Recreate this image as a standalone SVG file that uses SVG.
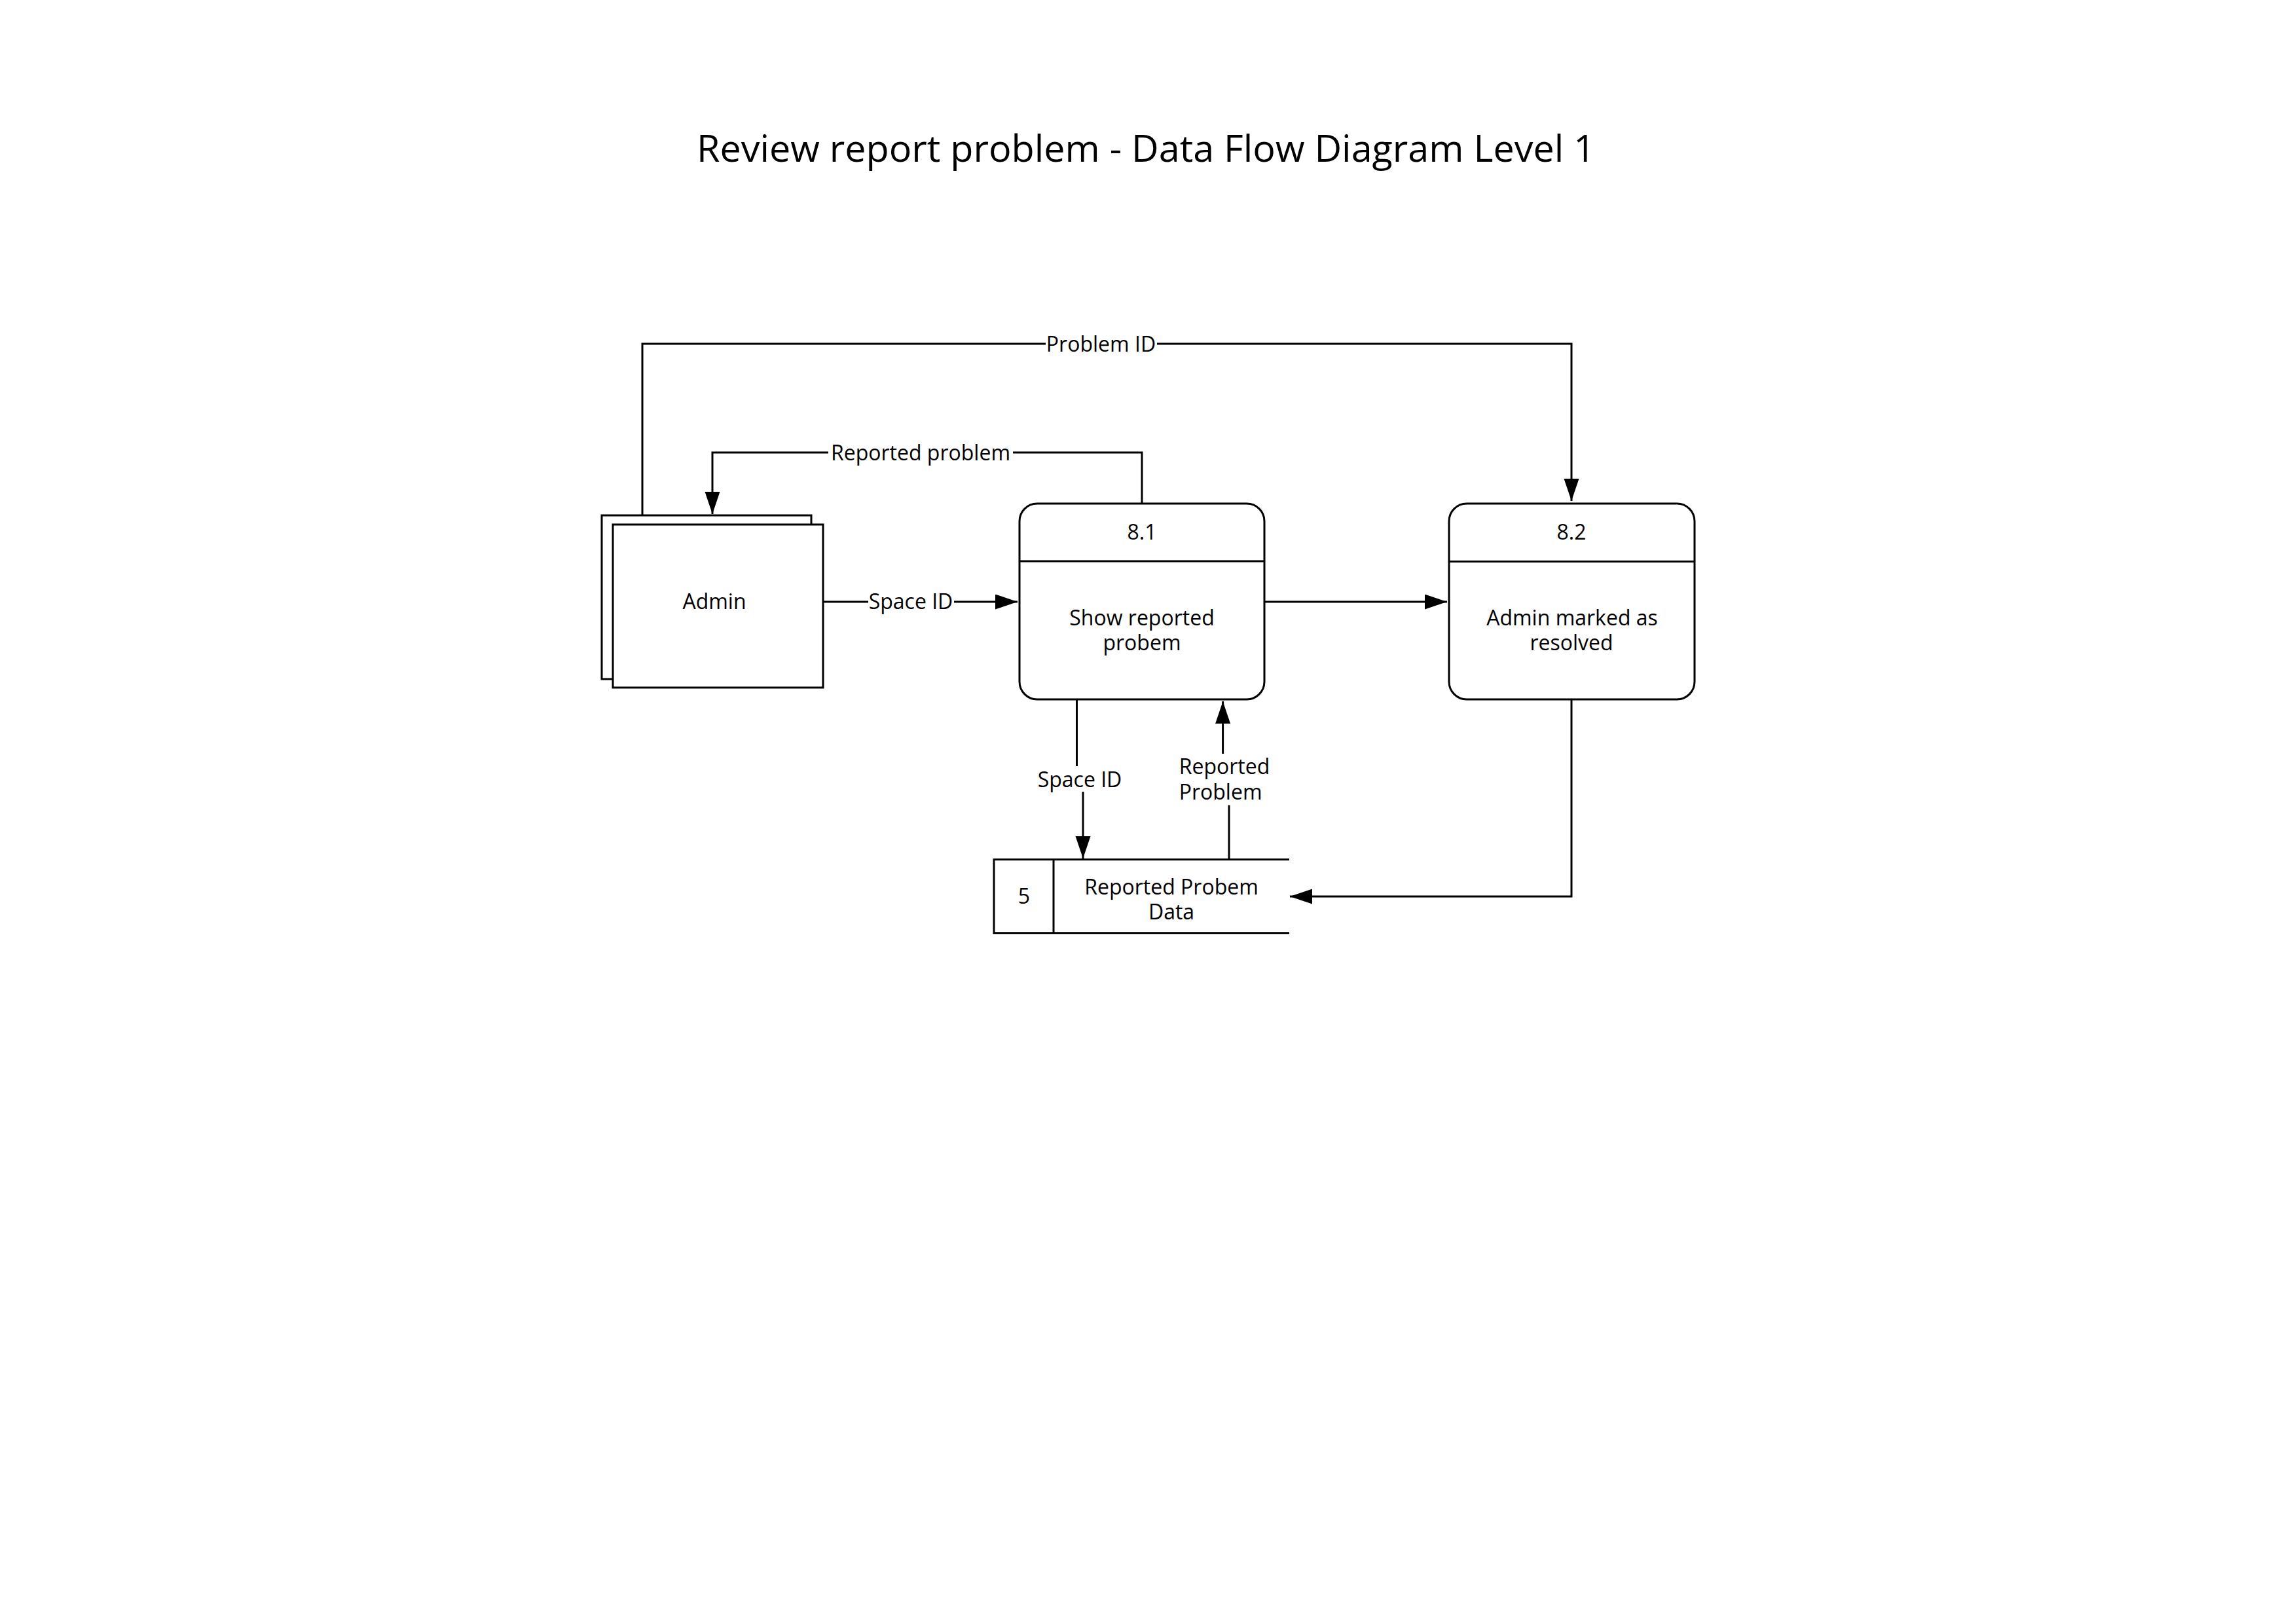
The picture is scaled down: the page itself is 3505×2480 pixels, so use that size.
<svg xmlns="http://www.w3.org/2000/svg" width="3505" height="2480" viewBox="0 0 3505 2480">
<defs>
<style>
.s{fill:#fff;stroke:#000;stroke-width:3}
.ln{fill:none;stroke:#000;stroke-width:3}
.t{font-family:"Open Sans","Liberation Sans",sans-serif;font-size:32px;fill:#000;text-anchor:middle}
.bg{fill:#fff;stroke:none}
</style>
<marker id="arr" markerUnits="userSpaceOnUse" markerWidth="36" markerHeight="24" refX="34" refY="11.5" orient="auto">
<path d="M0,0 L34,11.5 L0,23 Z" fill="#000"/>
</marker>
</defs>
<rect width="3505" height="2480" fill="#fff"/>
<text x="1750" y="247" style="font-family:'Open Sans','Liberation Sans',sans-serif;font-size:57.5px;fill:#000;text-anchor:middle">Review report problem - Data Flow Diagram Level 1</text>

<g id="connectors">
<path class="ln" d="M981,787 V525 H2400 V765" marker-end="url(#arr)"/>
<rect class="bg" x="1597" y="512" width="170" height="26"/>
<text class="t" x="1681.5" y="537">Problem ID</text>

<path class="ln" d="M1744,769 V691 H1088 V785" marker-end="url(#arr)"/>
<rect class="bg" x="1265" y="678" width="282" height="26"/>
<text class="t" x="1406" y="703">Reported problem</text>

<path class="ln" d="M1257,919 H1554" marker-end="url(#arr)"/>
<rect class="bg" x="1326" y="906" width="131" height="26"/>
<text class="t" x="1391" y="930">Space ID</text>

<path class="ln" d="M1931,919 H2210" marker-end="url(#arr)"/>

<path class="ln" d="M1644.5,1068 V1190 H1654 V1311" marker-end="url(#arr)"/>
<rect class="bg" x="1584" y="1170" width="130" height="39"/>
<text class="t" x="1649" y="1201.6">Space ID</text>

<path class="ln" d="M1877,1312.6 V1190 H1867.6 V1071" marker-end="url(#arr)"/>
<rect class="bg" x="1800" y="1151" width="144" height="78.5"/>
<text class="t" x="1800.7" y="1181.7" style="text-anchor:start">Reported</text>
<text class="t" x="1800.7" y="1220.7" style="text-anchor:start">Problem</text>

<path class="ln" d="M2400,1068 V1369 H1970" marker-end="url(#arr)"/>
</g>

<g id="admin">
<rect class="s" x="919" y="787" width="320" height="250"/>
<rect class="s" x="936" y="801" width="321" height="249"/>
<text class="t" x="1091" y="930">Admin</text>
</g>

<g id="p81">
<rect class="s" x="1557" y="769" width="374" height="299" rx="27" ry="27"/>
<line class="ln" x1="1557" y1="857" x2="1931" y2="857"/>
<text class="t" x="1744" y="824">8.1</text>
<text class="t" x="1744" y="954.5">Show reported</text>
<text class="t" x="1744" y="993">probem</text>
</g>

<g id="p82">
<rect class="s" x="2213" y="769" width="375" height="299" rx="27" ry="27"/>
<line class="ln" x1="2213" y1="857.5" x2="2588" y2="857.5"/>
<text class="t" x="2400" y="824">8.2</text>
<text class="t" x="2401" y="954.5">Admin marked as</text>
<text class="t" x="2400" y="993">resolved</text>
</g>

<g id="store5">
<rect class="bg" x="1518" y="1312.6" width="451" height="112"/>
<path class="ln" d="M1969,1312.6 H1518 V1424.7 H1969"/>
<line class="ln" x1="1609" y1="1312.6" x2="1609" y2="1424.7"/>
<text class="t" x="1564" y="1379.5">5</text>
<text class="t" x="1789" y="1366">Reported Probem</text>
<text class="t" x="1789" y="1404.4">Data</text>
</g>
</svg>
